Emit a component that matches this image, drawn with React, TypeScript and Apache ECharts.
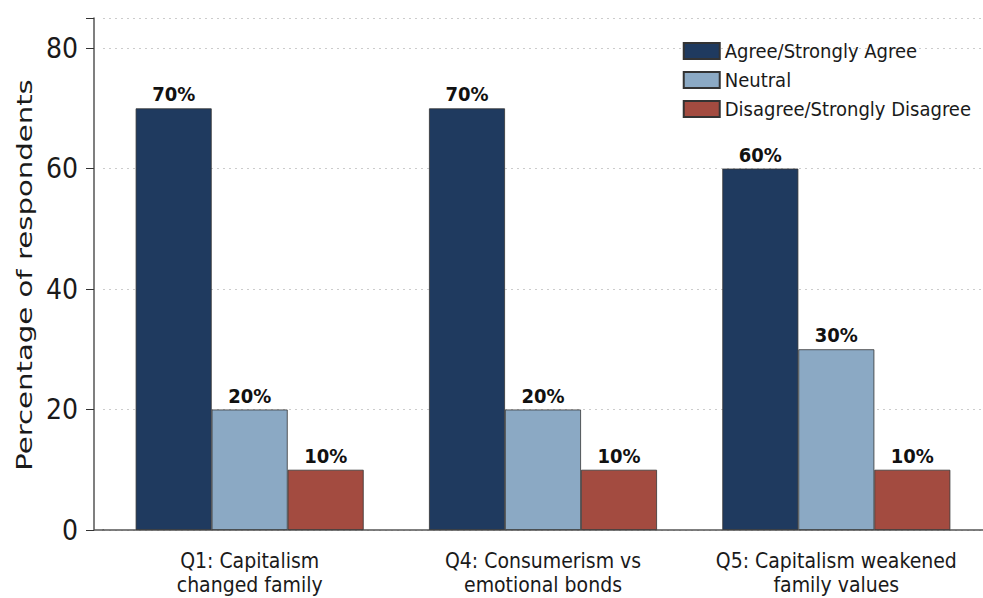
import React, { useEffect, useRef } from "react";
import * as echarts from "echarts";

const categories = [
  "Q1: Capitalism\nchanged family",
  "Q4: Consumerism vs\nemotional bonds",
  "Q5: Capitalism weakened\nfamily values",
];
const seriesNames = ["Agree/Strongly Agree", "Neutral", "Disagree/Strongly Disagree"];
const agreeValues = [70, 70, 60];
const neutralValues = [20, 20, 30];
const disagreeValues = [10, 10, 10];
const yTicks = [0, 20, 40, 60, 80];
const yAxisTitle = "Percentage of respondents";
const colors = ["#1f3a5f", "#8ba9c4", "#a34b40"];

const COND = "'DejaVu Sans Condensed', 'DejaVu Sans', sans-serif";

export default function App() {
  const ref = useRef<HTMLDivElement>(null);
  useEffect(() => {
    if (!ref.current) return;
    const chart = echarts.init(ref.current, undefined, { renderer: "svg" });
    const values = [agreeValues, neutralValues, disagreeValues];
    chart.setOption({
      animation: false,
      backgroundColor: "#ffffff",
      legend: {
        right: 7,
        top: 36,
        orient: "vertical",
        itemWidth: 36,
        itemHeight: 16,
        itemGap: 9,
        textStyle: { fontFamily: COND, fontSize: 20, color: "#1a1a1a" },
        icon: "rect",
        data: seriesNames,
      },
      grid: { left: 103, right: -2, top: 18, bottom: 68 },
      xAxis: {
        type: "category",
        data: categories,
        axisLine: { lineStyle: { color: "#555", width: 1.5 } },
        axisTick: { alignWithLabel: true, length: 8, lineStyle: { color: "#333" } },
        axisLabel: {
          interval: 0,
          hideOverlap: false,
          fontFamily: COND,
          fontSize: 21,
          color: "#1a1a1a",
          lineHeight: 24,
          margin: 19,
        },
      },
      yAxis: {
        type: "value",
        min: 0,
        max: 85,
        interval: 20,
        offset: 9,
        axisLine: { show: true, lineStyle: { color: "#555", width: 1.5 } },
        axisTick: { show: true, length: 8, lineStyle: { color: "#333" } },
        axisLabel: {
          fontFamily: COND,
          fontSize: 28,
          color: "#1a1a1a",
          margin: 16,
          customValues: yTicks,
        },
        splitLine: { show: true, lineStyle: { color: "#cccccc", type: [2, 4], width: 1 } },
      },
      series: seriesNames.map((name, i) => ({
        name,
        type: "bar",
        data: values[i],
        barWidth: 76,
        barGap: "0%",
        itemStyle: { color: colors[i], borderColor: "#333", borderWidth: 0.8 },
        label: {
          show: true,
          position: "top",
          distance: 4,
          formatter: "{c}%",
          fontFamily: COND,
          fontWeight: "bold",
          fontSize: 20,
          color: "#111",
        },
      })),
      graphic: [
        {
          type: "line",
          shape: { x1: 94, y1: 530, x2: 104, y2: 530 },
          style: { stroke: "#555", lineWidth: 1.5 },
        },
        {
          type: "text",
          x: 25,
          y: 275,
          rotation: Math.PI / 2,
          scaleX: 1.39,
          style: {
            text: yAxisTitle,
            font: "21px 'DejaVu Sans', sans-serif",
            fill: "#1a1a1a",
            textAlign: "center",
            textVerticalAlign: "middle",
          },
        },
      ],
    });
    return () => chart.dispose();
  }, []);
  return <div ref={ref} style={{ width: 983, height: 598, position: "absolute", left: 0, top: 0 }} />;
}
